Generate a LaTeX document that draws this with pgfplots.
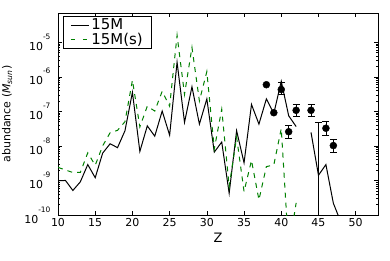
\documentclass[border=0pt]{standalone}
\usepackage{fontspec}
\setmainfont{DejaVu Sans}
\usepackage{pgfplots}
\pgfplotsset{compat=1.18}
\definecolor{mplgreen}{rgb}{0,0.5,0}
\newcommand{\ex}[1]{10\raisebox{11bp}{\fontsize{7.5}{8}\selectfont #1}}

\begin{document}
\begin{tikzpicture}
\begin{axis}[
  scale only axis, width=320bp, height=202bp,
  xmin=10, xmax=53, ymode=log, ymin=1e-10, ymax=7e-5,
  xtick={10,15,...,50},
  ytick={1e-10,1e-9,1e-8,1e-7,1e-6,1e-5},
  yticklabels={\ex{-10},\ex{-9},\ex{-8},\ex{-7},\ex{-6},\ex{-5}},
  tick align=inside, major tick length=4bp, minor tick length=2bp,
  tick style={black, line width=0.5bp},
  axis line style={line width=0.8bp},
  ticklabel style={font=\fontsize{11}{13}\selectfont},
  yticklabel style={xshift=-4bp},
  /pgf/number format/assume math mode=true,
  xlabel={Z},
  ylabel={abundance (\textit{M}\textsubscript{\textit{sun}})},
  xlabel style={font=\fontsize{13}{15}\selectfont, at={(axis description cs:0.5,0)}, anchor=center, yshift=-23bp},
  ylabel style={font=\fontsize{11}{13}\selectfont, at={(axis description cs:-0.159,0.5)}, anchor=center},
  legend style={at={(axis description cs:0.016,0.985)}, anchor=north west, draw=black, line width=0.6bp,
    font=\fontsize{15}{17}\selectfont, inner xsep=7bp, inner ysep=0.5bp, row sep=-2bp},
  legend cell align=left,
  legend image code/.code={\draw[#1] (0bp,0bp) -- (18bp,0bp);},
  unbounded coords=jump,
]
\addplot[black, line width=1bp] coordinates {
(10,9.77e-10) (11,1.0e-9) (12,5.13e-10) (13,9.12e-10) (14,2.88e-9) (15,1.20e-9)
(16,6.17e-9) (17,1.15e-8) (18,8.91e-9) (19,2.75e-8) (20,3.55e-7) (21,6.92e-9)
(22,3.80e-8) (23,1.91e-8) (24,1.02e-7) (25,2.04e-8) (26,2.63e-6) (27,4.79e-8)
(28,5.13e-7) (29,4.27e-8) (30,2.29e-7) (31,6.61e-9) (32,1.29e-8) (33,4.27e-10)
(34,2.75e-8) (35,3.24e-9) (36,1.58e-7) (37,4.27e-8) (38,2.29e-7) (39,8.71e-8)
(40,7.41e-7) (41,7.41e-8) (42,3.63e-8) (43,nan) (44,2.45e-8) (45,1.41e-9)
(46,2.88e-9) (47,2.19e-10) (48,6.3e-11)
};
\addlegendentry{15M}
\addplot[mplgreen, line width=1bp, dash pattern=on 5bp off 5bp,
  legend image post style={dash pattern=on 4.5bp off 7.5bp}] coordinates {
(10,2.40e-9) (11,2.0e-9) (12,1.70e-9) (13,1.70e-9) (14,6.31e-9) (15,2.75e-9)
(16,1.0e-8) (17,2.40e-8) (18,2.82e-8) (19,5.01e-8) (20,7.94e-7) (21,3.55e-8)
(22,1.41e-7) (23,1.02e-7) (24,3.80e-7) (25,1.41e-7) (26,1.58e-5) (27,3.09e-7)
(28,7.08e-6) (29,2.0e-7) (30,1.41e-6) (31,8.13e-9) (32,1.15e-7) (33,6.61e-10)
(34,1.78e-8) (35,4.79e-10) (36,3.80e-9) (37,2.75e-10) (38,2.51e-9) (39,2.82e-9)
(40,3.16e-8) (41,1e-11) (42,2.24e-10)
};
\addlegendentry{15M(s)}
\addplot[forget plot, only marks, mark=*, mark size=3.5bp, black,
  error bars/.cd, y dir=both, y explicit,
  error bar style={line width=0.8bp, black},
  error mark options={rotate=90, mark size=3.5bp, line width=0.8bp, black}] coordinates {
(40,4.27e-7) += (0,2.65e-7) -= (0,1.18e-7)
(41,2.57e-8) += (0,1.23e-8) -= (0,0.91e-8)
(42,1.07e-7) += (0,0.51e-7) -= (0,0.38e-7)
(44,1.07e-7) += (0,0.51e-7) -= (0,0.38e-7)
(45,1e-11) += (0,4.9e-8) -= (0,0)
(46,3.24e-8) += (0,1.89e-8) -= (0,1.2e-8)
(47,1.02e-8) += (0,0.49e-8) -= (0,0.39e-8)
};
\addplot[forget plot, only marks, mark=*, mark size=3.5bp, black] coordinates {
(38,5.89e-7) (39,9.12e-8)
};
\end{axis}
\pgfresetboundingbox
\path[use as bounding box] ([xshift=-58bp,yshift=-45bp]current axis.south west) rectangle ([xshift=12bp,yshift=13bp]current axis.north east);
\end{tikzpicture}
\end{document}
